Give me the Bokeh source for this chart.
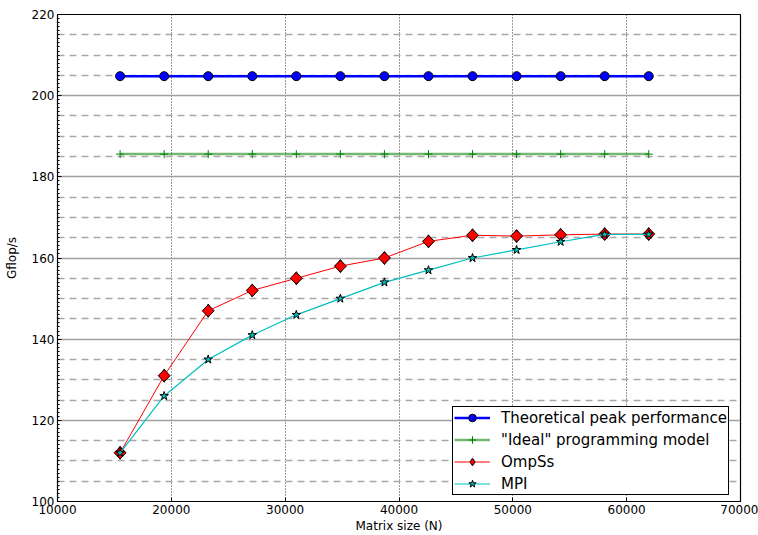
import math
from bokeh.plotting import figure
from bokeh.models import (Range1d, SingleIntervalTicker, FixedTicker, Grid,
                          Legend, LegendItem)
from bokeh.embed import file_html
from bokeh.resources import INLINE

# ---- data ----
matrix_size = [15500, 19370, 23240, 27110, 30980, 34850, 38720, 42590,
               46460, 50330, 54200, 58070, 61940]
theoretical_peak = [204.8] * 13
ideal_model = [185.6] * 13
ompss = [112, 131, 147, 152, 155, 158, 160, 164.1, 165.6, 165.4, 165.7, 165.9, 165.9]
mpi = [112, 126, 135, 141, 146, 150, 154, 157, 160, 162, 164, 165.8, 165.8]

series_labels = ["Theoretical peak performance", '"Ideal" programming model', "OmpSs", "MPI"]
x_label = "Matrix size (N)"
y_label = "Gflop/s"
FONT = "DejaVu Sans"

p = figure(width=758, height=535, output_backend="svg", toolbar_location=None,
           x_range=Range1d(10000, 70000), y_range=Range1d(100, 220),
           min_border_left=57, min_border_right=18, min_border_top=14, min_border_bottom=30,
           background_fill_color="white", border_fill_color="white")
p.outline_line_color = "black"
p.outline_line_width = 1.2
p.outline_line_alpha = 1

# axes
p.xaxis.ticker = SingleIntervalTicker(interval=10000, num_minor_ticks=0)
p.yaxis.ticker = SingleIntervalTicker(interval=20, num_minor_ticks=20)
for ax in (p.xaxis[0], p.yaxis[0]):
    ax.major_label_text_font = FONT
    ax.major_label_text_font_size = "12px"
    ax.major_label_text_color = "black"
    ax.axis_label_text_font = FONT
    ax.axis_label_text_font_size = "12px"
    ax.axis_label_text_font_style = "normal"
    ax.axis_label_text_color = "black"
    ax.major_tick_in = 4
    ax.major_tick_out = 0
    ax.minor_tick_in = 2
    ax.minor_tick_out = 0
    ax.axis_line_color = "black"
    ax.major_tick_line_color = "black"
    ax.minor_tick_line_color = "black"
p.xaxis.axis_label = x_label
p.yaxis.axis_label = y_label
p.xaxis.axis_label_standoff = 2
p.yaxis.axis_label_standoff = 10
p.xaxis.major_label_standoff = 3
p.yaxis.major_label_standoff = 3

# grids
p.xgrid.ticker = FixedTicker(ticks=[20000, 30000, 40000, 50000, 60000])
p.xgrid.grid_line_color = "black"
p.xgrid.grid_line_dash = "1 2"
p.xgrid.grid_line_alpha = 0.8
p.xgrid.grid_line_width = 1

p.ygrid.ticker = SingleIntervalTicker(interval=20, num_minor_ticks=0)
p.ygrid.grid_line_color = "#a0a0a0"
p.ygrid.grid_line_width = 1.5
p.ygrid.grid_line_dash = "solid"

minor_vals = [v for v in range(105, 220, 5) if v % 20 != 0]
minor_grid = Grid(dimension=1, ticker=FixedTicker(ticks=minor_vals),
                  grid_line_color="#a8a8a8", grid_line_width=1.3, grid_line_dash="7 5")
p.add_layout(minor_grid)

# series
l1 = p.line(matrix_size, theoretical_peak, line_color="#0000ff", line_width=2.5)
s1 = p.scatter(matrix_size, theoretical_peak, marker="circle", size=9,
               fill_color="#0000ff", line_color="black", line_width=1)
l2 = p.line(matrix_size, ideal_model, line_color="#008000", line_alpha=0.55, line_width=2.5)
s2 = p.scatter(matrix_size, ideal_model, marker="cross", size=8,
               line_color="#008000", line_width=1)
l3 = p.line(matrix_size, ompss, line_color="#ff0000", line_width=1)
# diamond glyph (used for the legend), covered by the rotated squares on the plot
s3_leg = p.scatter(matrix_size, ompss, marker="diamond", size=13,
                   fill_color="#ff0000", line_color="black", line_width=1)
s3 = p.scatter(matrix_size, ompss, marker="square", size=8.5, angle=math.pi / 4,
               fill_color="#ff0000", line_color="black", line_width=1)
l4 = p.line(matrix_size, mpi, line_color="#00bfbf", line_width=1.2)
s4 = p.scatter(matrix_size, mpi, marker="star", size=9,
               fill_color="#00bfbf", line_color="black", line_width=1)

legend = Legend(items=[
    LegendItem(label=series_labels[0], renderers=[l1, s1]),
    LegendItem(label=series_labels[1], renderers=[l2, s2]),
    LegendItem(label=series_labels[2], renderers=[l3, s3_leg]),
    LegendItem(label=series_labels[3], renderers=[l4, s4]),
], location=(395, 6))
legend.margin = 0
legend.padding = 1
legend.spacing = 3
legend.label_height = 19
legend.glyph_height = 19
legend.glyph_width = 36
legend.label_standoff = 11
legend.label_text_font = FONT
legend.label_text_font_size = "15px"
legend.label_text_color = "black"
legend.border_line_color = "black"
legend.border_line_width = 1
legend.border_line_alpha = 1
legend.background_fill_color = "white"
legend.background_fill_alpha = 1
p.add_layout(legend)

open("out.html", "w").write(file_html(p, INLINE))
